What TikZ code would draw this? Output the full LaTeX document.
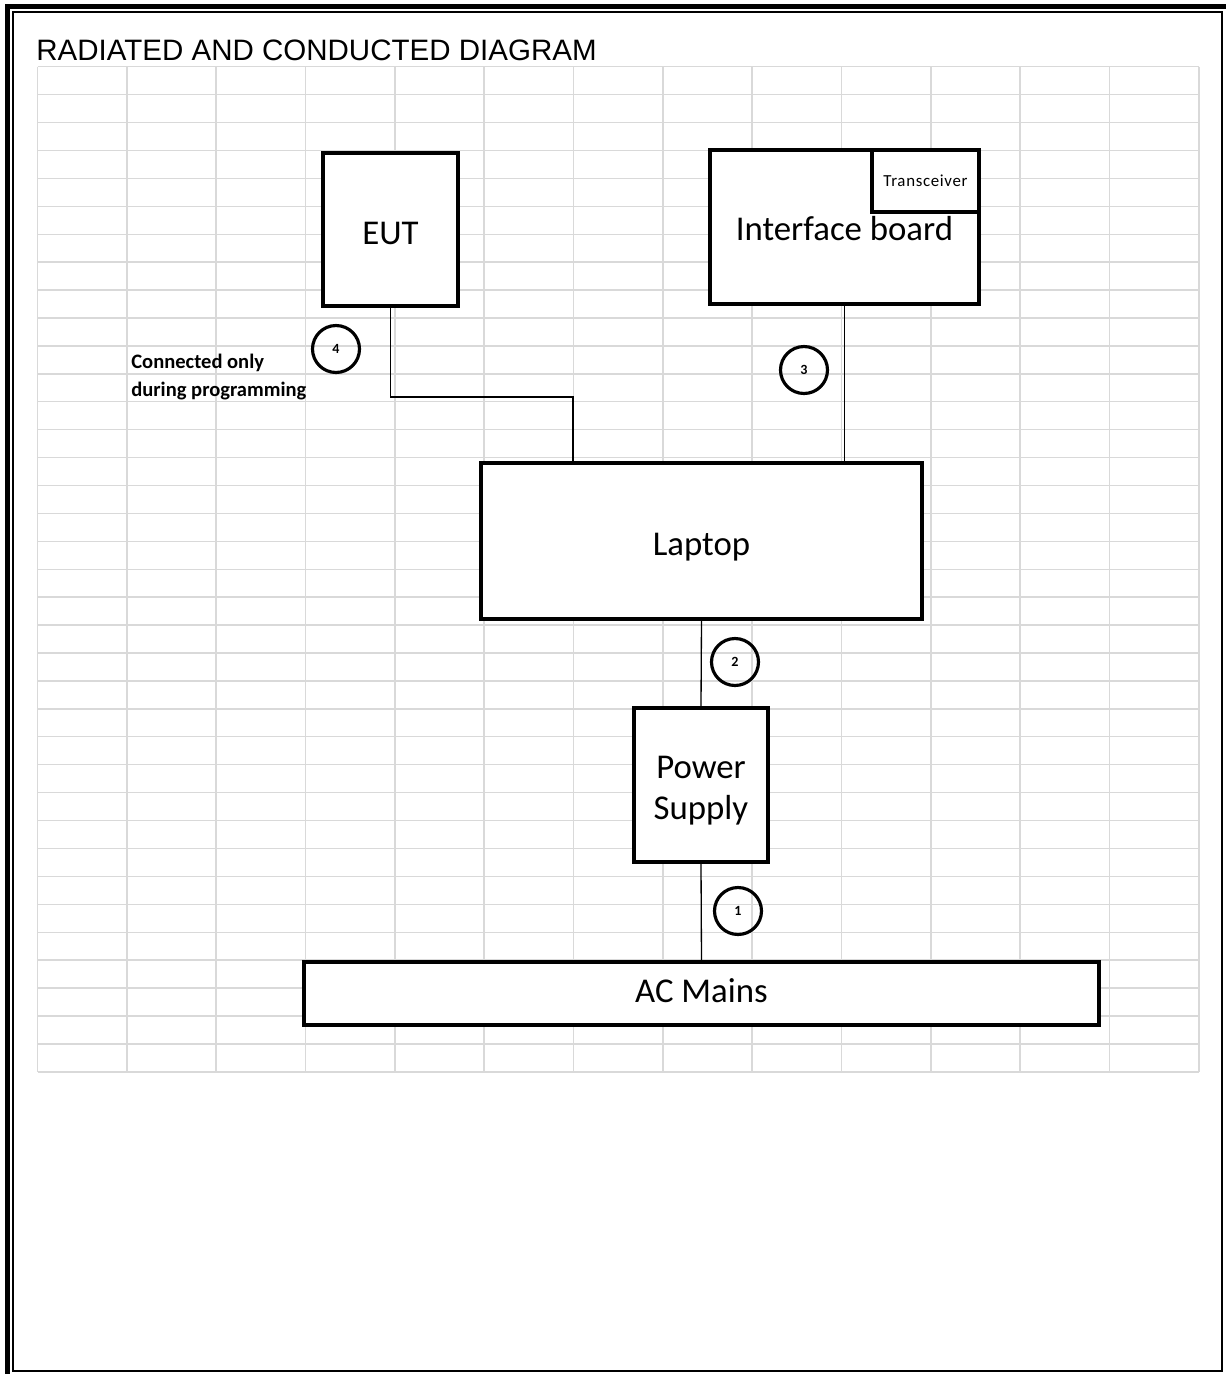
\documentclass[tikz,border=0pt]{standalone}
\usepackage{fontspec}
\setmainfont{Carlito}
\newfontfamily\titlefont{Liberation Sans}
\usetikzlibrary{positioning, calc}
\tikzset{
    unit box/.style={draw, line width=1.9pt, fill=white, inner sep=0pt, align=center,
        font=\fontsize{19.8}{23.5}\selectfont},
    cable/.style={line width=0.75pt},
    cable tag/.style={circle, draw, line width=1.8pt, minimum size=0.94cm, inner sep=0pt,
        font=\fontsize{8}{9}\selectfont\bfseries},
    sheet grid/.style={line width=0.8pt, black!15},
}

\begin{document}
\begin{tikzpicture}[x=0.02cm, y=-0.02cm]
\useasboundingbox (0,0) rectangle (1226,1374);
% page frame
\draw[line width=1.1pt] (13,12) rectangle (1222,1371);
\draw[line width=2.8pt] (7.5,1374) -- (7.5,6.5) -- (1226,6.5);
% spreadsheet grid
\foreach \i in {0,...,13} {
    \draw[sheet grid] ({37.5+\i*89.33},66.7) -- ({37.5+\i*89.33},1071.7);
}
\foreach \j in {0,...,36} {
    \draw[sheet grid] (37.5,{66.7+\j*27.92}) -- (1199,{66.7+\j*27.92});
}
\node[anchor=base west, inner sep=0pt, font=\titlefont\fontsize{16.8}{20}\selectfont] (title) at (36,60) {RADIATED AND CONDUCTED DIAGRAM};

% units
\node[unit box, minimum width=2.7cm, minimum height=3.06cm, text height=16.8pt, text depth=0pt] (eut) at (390.5,229.5) {EUT};
\node[unit box, minimum width=5.38cm, minimum height=3.08cm, text height=14.8pt, text depth=0pt] (iface) at (844.5,227) {Interface board};
\node[unit box, minimum width=2.14cm, minimum height=1.24cm, font=\fontsize{9.6}{11}\selectfont\addfontfeatures{LetterSpace=4}] (xcvr) at (925.5,181) {Transceiver};
\node[unit box, minimum width=8.82cm, minimum height=3.12cm, text height=17pt, text depth=0pt] (laptop) at (701.5,541) {Laptop};
\node[unit box, minimum width=2.68cm, minimum height=3.08cm, text height=42.5pt] (psu) at (701,785) {Power\\Supply};
\node[unit box, minimum width=15.9cm, minimum height=1.26cm, text height=10.6pt, text depth=0pt] (mains) at (701.5,993.5) {AC Mains};

% cables
\coordinate (prog) at (573,397);
\draw[cable] (eut.south) |- (prog) -- (prog |- laptop.north);
\draw[cable] (iface.south) -- (iface.south |- laptop.north);
\draw[cable] (laptop.south) -- (psu.north);
\draw[cable] (psu.south) -- (mains.north);

% cable numbers
\node[cable tag] (c1) at (738,911) {1};
\node[cable tag] (c2) at (735,662) {2};
\node[cable tag] (c3) at (804,370) {3};
\node[cable tag] (c4) at (336,349) {4};
\node[anchor=west, align=left, inner sep=0pt, font=\fontsize{11.7}{16.4}\selectfont\bfseries] (note) at (131,377) {Connected only\\during programming};
\end{tikzpicture}
\end{document}
